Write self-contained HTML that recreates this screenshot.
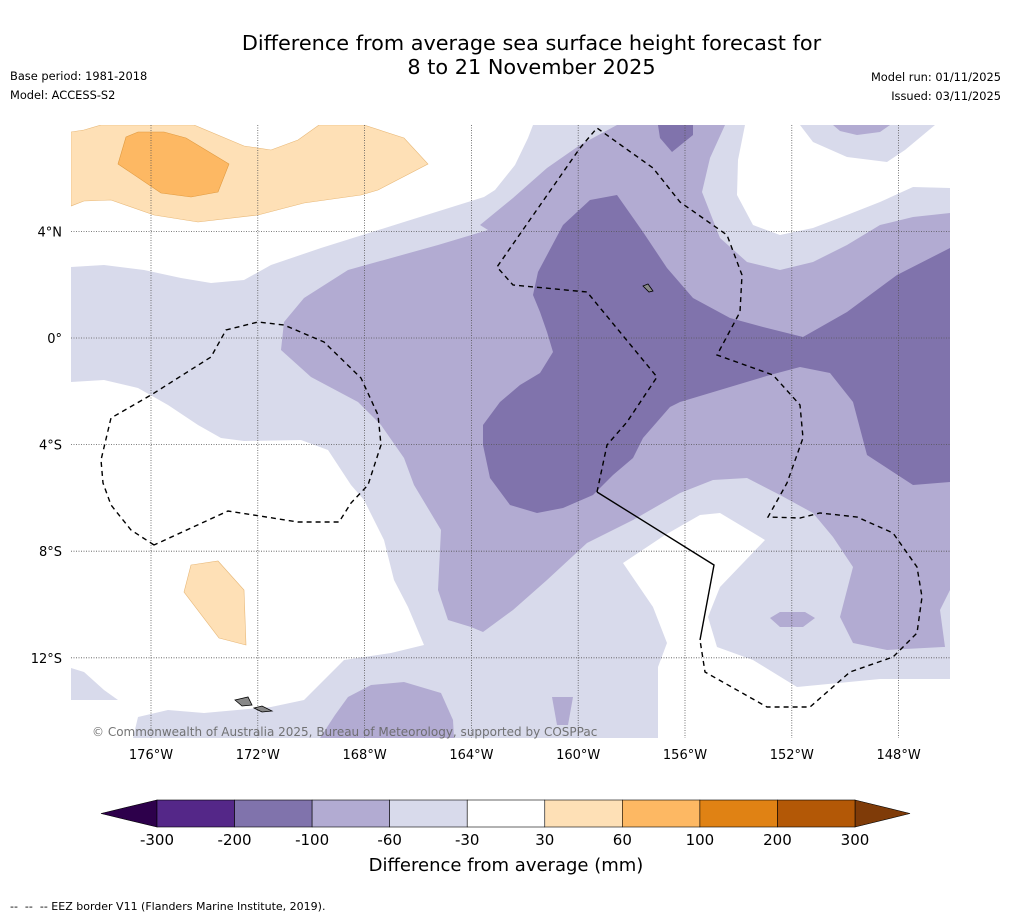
<!DOCTYPE html>
<html><head><meta charset="utf-8">
<style>
html,body{margin:0;padding:0;background:#fff;}
body{width:1011px;height:919px;position:relative;overflow:hidden;font-family:"DejaVu Sans","Liberation Sans",sans-serif;}
.t{position:absolute;white-space:nowrap;color:#000;}
</style></head><body>
<div class="t" style="left:0;width:1063px;text-align:center;top:31px;font-size:20.8px;line-height:24px;">Difference from average sea surface height forecast for<br>8 to 21 November 2025</div>
<div class="t" style="left:10px;top:69px;font-size:11.4px;">Base period: 1981-2018</div>
<div class="t" style="left:10px;top:88px;font-size:11.4px;">Model: ACCESS-S2</div>
<div class="t" style="right:10px;top:70px;font-size:11.4px;">Model run: 01/11/2025</div>
<div class="t" style="right:10px;top:89px;font-size:11.4px;">Issued: 03/11/2025</div>

<svg id="map" width="1011" height="919" style="position:absolute;left:0;top:0" xmlns="http://www.w3.org/2000/svg">
<defs><clipPath id="mc"><rect x="71" y="125" width="879" height="613"/></clipPath></defs>
<g clip-path="url(#mc)">
<rect x="71" y="125" width="879" height="613" fill="#d8daeb"/>
<g fill="#fff">
<polygon points="71,125 533,125 528,138 515,165 495,190 484,197 404,222 321,248 271,265 244,280 211,283 181,278 144,270 104,265 71,267"/>
<polygon points="71,382 104,380 138,388 168,405 198,425 221,438 244,441 301,440 328,450 351,485 364,500 384,540 394,580 408,607 424,645 391,653 344,660 304,700 271,707 204,713 168,710 138,717 133,738 71,738"/>
<polygon points="745,125 800,125 813,142 847,157 887,162 905,150 935,125 950,125 950,188 913,187 880,202 847,215 813,228 780,235 753,225 737,195 738,160"/>
<polygon points="623,563 665,535 700,515 720,513 765,540 720,587 708,617 717,647 753,660 797,687 880,679 950,679 950,738 658,738 658,667 667,643 653,607"/>
</g>
<polygon fill="#d8daeb" points="71,668 84,672 104,690 118,700 71,700"/>
<g fill="#b2abd2">
<polygon points="617,125 725,125 710,158 702,192 720,238 747,262 780,270 813,262 847,245 880,225 913,217 950,213 950,590 940,610 945,647 943,647 887,650 853,643 840,617 853,567 833,537 813,513 780,495 747,478 713,480 680,493 633,520 587,543 547,580 513,610 483,632 471,627 448,620 438,590 441,530 414,485 404,458 381,425 358,402 311,377 281,350 284,322 304,298 348,270 438,245 488,230 480,225 513,198 547,168 580,145"/>
<polygon points="833,125 890,125 880,132 857,135 840,131"/>
<polygon points="770,618 780,612 805,612 815,618 803,627 780,627"/>
<polygon points="320,738 335,715 348,697 371,685 404,682 441,693 453,720 454,738"/>
<polygon points="552,697 573,697 568,725 557,725"/>
</g>
<g fill="#8073ac">
<polygon points="658,125 693,125 693,135 672,152 660,138"/>
<polygon points="590,200 617,195 643,232 667,268 693,298 730,318 763,327 803,337 847,312 897,275 950,248 950,482 913,485 867,455 853,402 830,373 800,367 770,375 680,402 670,407 643,438 633,458 613,475 593,495 563,508 537,513 510,505 490,478 483,445 483,425 500,402 520,385 540,373 553,352 547,332 540,312 533,295 538,272 563,225"/>
</g>
<g stroke="#e8b878" stroke-width="0.6">
<polygon fill="#fee0b6" points="71,132 84,130 101,125 194,125 244,146 271,150 298,140 319,125 364,125 404,138 428,164 378,190 361,195 304,203 258,215 198,222 154,215 111,200 84,201 71,206"/>
<polygon fill="#fdb863" stroke="#e09a40" points="126,137 138,132 164,132 186,138 229,164 218,192 191,197 161,193 118,164"/>
<polygon fill="#fee0b6" points="191,565 218,561 244,590 246,645 219,638 184,592"/>
</g>
<g id="grid" stroke="#555" stroke-width="0.8" stroke-dasharray="1,1.5"></g>
<g fill="#888" stroke="#000" stroke-width="0.8">
<polygon points="235,700 248,697 252,705 242,706"/>
<polygon points="254,708 262,706 272,711 262,712"/>
<polygon points="643,286 648,284 653,291 649,292"/>
</g>
<g fill="none" stroke="#000" stroke-width="1.4">
<polyline stroke-dasharray="5,4" points="154,545 131,530 111,505 103,483 101,460 111,418 151,395 211,357 226,330 258,322 284,325 324,342 361,378 378,415 381,445 368,485 351,503 339,522 298,522 228,511 154,545"/>
<polyline stroke-dasharray="5,4" points="597,492 607,445 627,422 657,377 587,292 513,285 497,267 580,148 597,128 653,168 680,202 727,235 742,275 740,312 717,355 773,375 800,405 803,438 787,483 768,517 800,518 820,513 857,517 893,533 917,567 922,597 917,633 893,657 850,672 810,707 767,707 705,672 700,640"/>
<polyline points="597,492 714,565 700,640"/>
</g>
</g>
<text x="92" y="736" font-size="12" fill="#666" fill-opacity="0.9" font-family="DejaVu Sans, Liberation Sans, sans-serif">© Commonwealth of Australia 2025, Bureau of Meteorology, supported by COSPPac</text>
<g id="axes" font-size="13" font-family="DejaVu Sans, Liberation Sans, sans-serif" fill="#000"></g>
<g id="cbar"></g>
</svg>
<div class="t" style="left:10px;top:900px;font-size:11px;">-- &nbsp;-- &nbsp;-- EEZ border V11 (Flanders Marine Institute, 2019).</div>
<script>
const lonTicks=[-176,-172,-168,-164,-160,-156,-152,-148];
const latTicks=[4,0,-4,-8,-12];
const cbBounds=[-300,-200,-100,-60,-30,30,60,100,200,300];
const cbColors=["#542788","#8073ac","#b2abd2","#d8daeb","#ffffff","#fee0b6","#fdb863","#e08214","#b35806"];
const cbUnder="#2d004b", cbOver="#7f3b08";
const NS="http://www.w3.org/2000/svg";
function lx(lon){return 151+(lon+176)*26.7;}
function ly(lat){return 338-lat*26.65;}
function mk(tag,attrs,parent){const e=document.createElementNS(NS,tag);for(const k in attrs)e.setAttribute(k,attrs[k]);parent.appendChild(e);return e;}
const grid=document.getElementById('grid'),axes=document.getElementById('axes'),cb=document.getElementById('cbar');
lonTicks.forEach(v=>{const x=lx(v);
 const l=mk('line',{x1:x,y1:125,x2:x,y2:738},grid);
 
 
 const t=mk('text',{x:x,y:759,'text-anchor':'middle'},axes);t.textContent=Math.abs(v)+'°W';
 
 });
latTicks.forEach(v=>{const y=ly(v);
 const l=mk('line',{x1:71,y1:y,x2:950,y2:y},grid);
 
 
 const t=mk('text',{x:62,y:y+5,'text-anchor':'end'},axes);t.textContent=v===0?'0°':Math.abs(v)+'°'+(v>0?'N':'S');
 
 });
const cx0=157,cx1=855,cy=800,ch=27,bw=(cx1-cx0)/cbColors.length;
function cbx(i){return cx0+i*bw;}
const u=mk('polygon',{points:`101,${cy+ch/2} ${cx0},${cy} ${cx0},${cy+ch}`,fill:cbUnder,stroke:'#000','stroke-width':0.6},cb);


const o=mk('polygon',{points:`${cx1},${cy} 910,${cy+ch/2} ${cx1},${cy+ch}`,fill:cbOver,stroke:'#000','stroke-width':0.6},cb);


cbColors.forEach((c,i)=>{const r=mk('rect',{x:cbx(i),y:cy,width:bw,height:ch,fill:c,stroke:'#000','stroke-width':0.6},cb);
 
 });
cbBounds.forEach((b,i)=>{const t=mk('text',{x:cbx(i),y:845,'text-anchor':'middle','font-size':15,'font-family':'DejaVu Sans, Liberation Sans, sans-serif'},cb);t.textContent=b;
 
 });
const lt=mk('text',{x:506,y:871,'text-anchor':'middle','font-size':18,'font-family':'DejaVu Sans, Liberation Sans, sans-serif'},cb);lt.textContent='Difference from average (mm)';


</script>
</body></html>
